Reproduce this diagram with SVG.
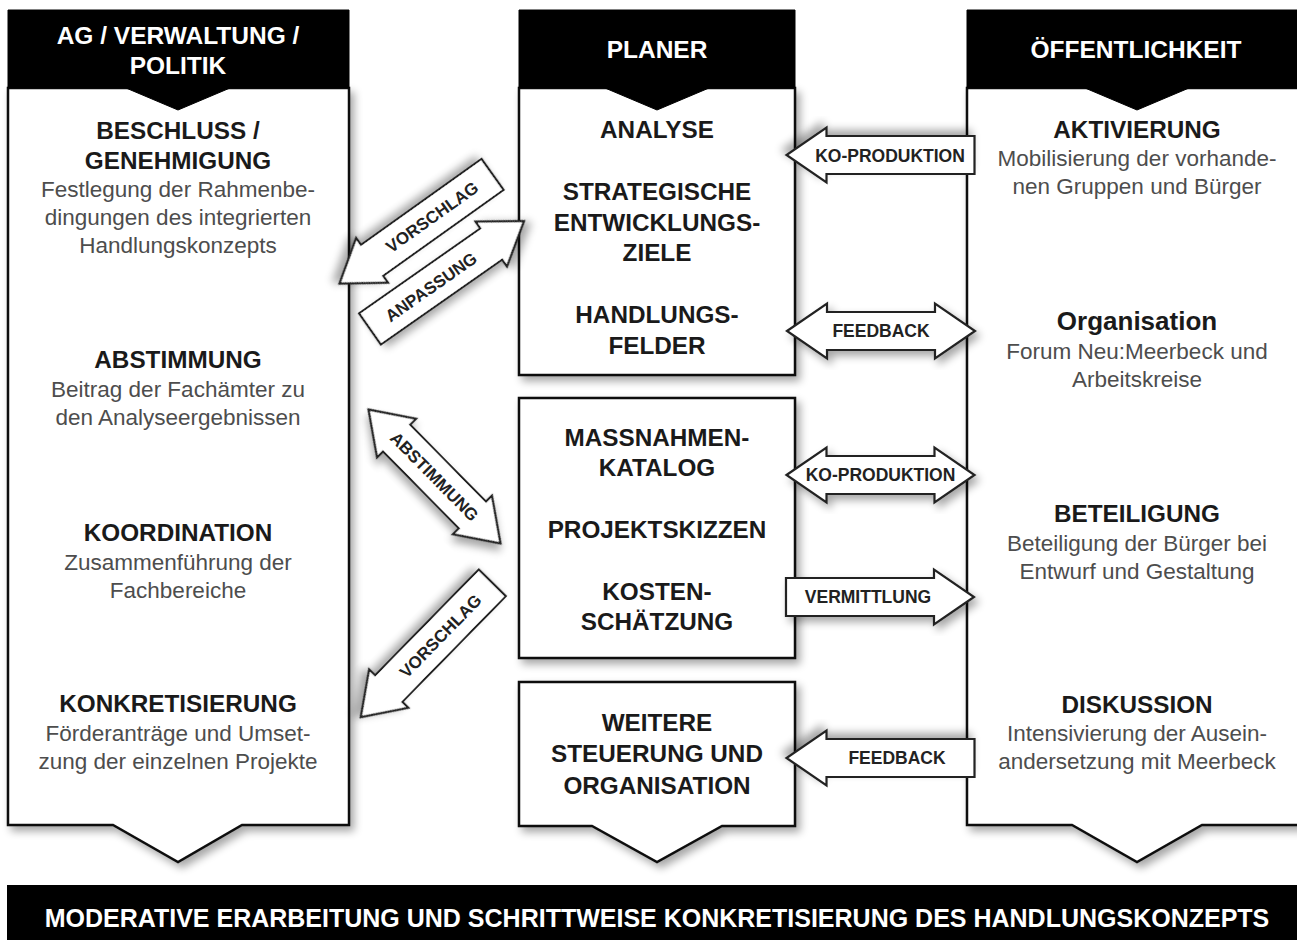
<svg xmlns="http://www.w3.org/2000/svg" width="1297" height="940" viewBox="0 0 1297 940">
<defs>
<filter id="sh" x="-20%" y="-20%" width="140%" height="140%">
<feGaussianBlur in="SourceAlpha" stdDeviation="4"/>
<feOffset dx="4" dy="5" result="b"/>
<feComponentTransfer><feFuncA type="linear" slope="0.35"/></feComponentTransfer>
<feMerge><feMergeNode/><feMergeNode in="SourceGraphic"/></feMerge>
</filter>
<path id="arR" d="M-94,-19 L54,-19 L54,-27.5 L94,0 L54,27.5 L54,19 L-94,19 Z"/>
<path id="arD" d="M-94,0 L-54,-27.5 L-54,-19 L54,-19 L54,-27.5 L94,0 L54,27.5 L54,19 L-54,19 L-54,27.5 Z"/>
</defs>
<style>
.box{fill:#fff;stroke:#111;stroke-width:2.5;stroke-linejoin:miter}
.hdr{fill:#000;stroke:#000;stroke-width:1}
.arr{fill:#fff;stroke:#222;stroke-width:2.2;stroke-linejoin:miter}
text{font-family:"Liberation Sans",Arial,Helvetica,sans-serif;text-anchor:middle}
.h{font-size:24.5px;font-weight:bold;fill:#fff}
.b{font-size:24.3px;font-weight:bold;fill:#1a1a1a}
.r{font-size:22.5px;fill:#4d4d4d}
.a{font-size:17.5px;font-weight:bold;fill:#222}
.ad{font-size:17px;font-weight:bold;fill:#222}
.bar{font-size:25px;font-weight:bold;fill:#fff}
</style>
<rect width="1297" height="940" fill="#fff"/>

<g id="col-left">
<path class="box" filter="url(#sh)" d="M8,88 L349,88 L349,825 L242,825 L178,862 L113,825 L8,825 Z"/>
<path class="hdr" d="M8,10 L349,10 L349,88 L230,88 L178,110 L126,88 L8,88 Z"/>
<text class="h" x="178" y="44">AG / VERWALTUNG /</text>
<text class="h" x="178" y="74">POLITIK</text>
<text class="b" x="178" y="139">BESCHLUSS /</text>
<text class="b" x="178" y="169">GENEHMIGUNG</text>
<text class="r" x="178" y="197">Festlegung der Rahmenbe-</text>
<text class="r" x="178" y="225">dingungen des integrierten</text>
<text class="r" x="178" y="253">Handlungskonzepts</text>
<text class="b" x="178" y="368">ABSTIMMUNG</text>
<text class="r" x="178" y="397">Beitrag der Fachämter zu</text>
<text class="r" x="178" y="425">den Analyseergebnissen</text>
<text class="b" x="178" y="541">KOORDINATION</text>
<text class="r" x="178" y="570">Zusammenführung der</text>
<text class="r" x="178" y="598">Fachbereiche</text>
<text class="b" x="178" y="712">KONKRETISIERUNG</text>
<text class="r" x="178" y="741">Förderanträge und Umset-</text>
<text class="r" x="178" y="769">zung der einzelnen Projekte</text>
</g>

<g id="col-planer">
<rect class="box" filter="url(#sh)" x="519" y="88" width="276" height="287"/>
<path class="hdr" d="M519,10 L795,10 L795,88 L709,88 L657,110 L605,88 L519,88 Z"/>
<text class="h" x="657" y="58">PLANER</text>
<text class="b" x="657" y="138">ANALYSE</text>
<text class="b" x="657" y="200">STRATEGISCHE</text>
<text class="b" x="657" y="231">ENTWICKLUNGS-</text>
<text class="b" x="657" y="261">ZIELE</text>
<text class="b" x="657" y="323">HANDLUNGS-</text>
<text class="b" x="657" y="354">FELDER</text>
</g>

<g id="box-massnahmen">
<rect class="box" filter="url(#sh)" x="519" y="398" width="276" height="260"/>
<text class="b" x="657" y="446">MASSNAHMEN-</text>
<text class="b" x="657" y="476">KATALOG</text>
<text class="b" x="657" y="538">PROJEKTSKIZZEN</text>
<text class="b" x="657" y="600">KOSTEN-</text>
<text class="b" x="657" y="630">SCHÄTZUNG</text>
</g>

<g id="box-weitere">
<path class="box" filter="url(#sh)" d="M519,682 L795,682 L795,826 L722,826 L657,862 L592,826 L519,826 Z"/>
<text class="b" x="657" y="731">WEITERE</text>
<text class="b" x="657" y="762">STEUERUNG UND</text>
<text class="b" x="657" y="794">ORGANISATION</text>
</g>

<g id="col-right">
<path class="box" filter="url(#sh)" d="M967,88 L1310,88 L1310,825 L1202,825 L1137,862 L1072,825 L967,825 Z"/>
<path class="hdr" d="M967,10 L1310,10 L1310,88 L1189,88 L1137,110 L1085,88 L967,88 Z"/>
<text class="h" x="1136" y="58">ÖFFENTLICHKEIT</text>
<text class="b" x="1137" y="138">AKTIVIERUNG</text>
<text class="r" x="1137" y="166">Mobilisierung der vorhande-</text>
<text class="r" x="1137" y="194">nen Gruppen und Bürger</text>
<text class="b" x="1137" y="330" style="font-size:26px">Organisation</text>
<text class="r" x="1137" y="359">Forum Neu:Meerbeck und</text>
<text class="r" x="1137" y="387">Arbeitskreise</text>
<text class="b" x="1137" y="522">BETEILIGUNG</text>
<text class="r" x="1137" y="551">Beteiligung der Bürger bei</text>
<text class="r" x="1137" y="579">Entwurf und Gestaltung</text>
<text class="b" x="1137" y="713">DISKUSSION</text>
<text class="r" x="1137" y="741">Intensivierung der Ausein-</text>
<text class="r" x="1137" y="769">andersetzung mit Meerbeck</text>
</g>

<g id="connectors">
<use href="#arR" class="arr" filter="url(#sh)" transform="translate(880.5,155) rotate(180)"/>
<text class="a" x="890" y="162">KO-PRODUKTION</text>
<use href="#arD" class="arr" filter="url(#sh)" transform="translate(881,331)"/>
<text class="a" x="881" y="337">FEEDBACK</text>
<use href="#arD" class="arr" filter="url(#sh)" transform="translate(880.5,475)"/>
<text class="a" x="880.5" y="481">KO-PRODUKTION</text>
<use href="#arR" class="arr" filter="url(#sh)" transform="translate(880,597)"/>
<text class="a" x="868" y="603">VERMITTLUNG</text>
<use href="#arR" class="arr" filter="url(#sh)" transform="translate(880.5,758) rotate(180)"/>
<text class="a" x="897" y="764">FEEDBACK</text>

<use href="#arR" class="arr" filter="url(#sh)" transform="translate(416,229) rotate(144.5)"/>
<text class="ad" transform="translate(432,217) rotate(-35.5)" y="6">VORSCHLAG</text>
<use href="#arR" class="arr" filter="url(#sh)" transform="translate(447,275) rotate(-35)"/>
<text class="ad" transform="translate(431,287) rotate(-35)" y="6">ANPASSUNG</text>
<use href="#arD" class="arr" filter="url(#sh)" transform="translate(434.5,476.5) rotate(45.4)"/>
<text class="ad" transform="translate(434.5,476.5) rotate(45.4)" y="6">ABSTIMMUNG</text>
<use href="#arR" class="arr" filter="url(#sh)" transform="translate(426.5,650) rotate(134.4)"/>
<text class="ad" transform="translate(440.5,636) rotate(-45.6)" y="6">VORSCHLAG</text>
</g>

<g id="bottom-bar">
<rect x="7" y="885" width="1300" height="60" fill="#000"/>
<text class="bar" x="657" y="927">MODERATIVE ERARBEITUNG UND SCHRITTWEISE KONKRETISIERUNG DES HANDLUNGSKONZEPTS</text>
</g>
</svg>
